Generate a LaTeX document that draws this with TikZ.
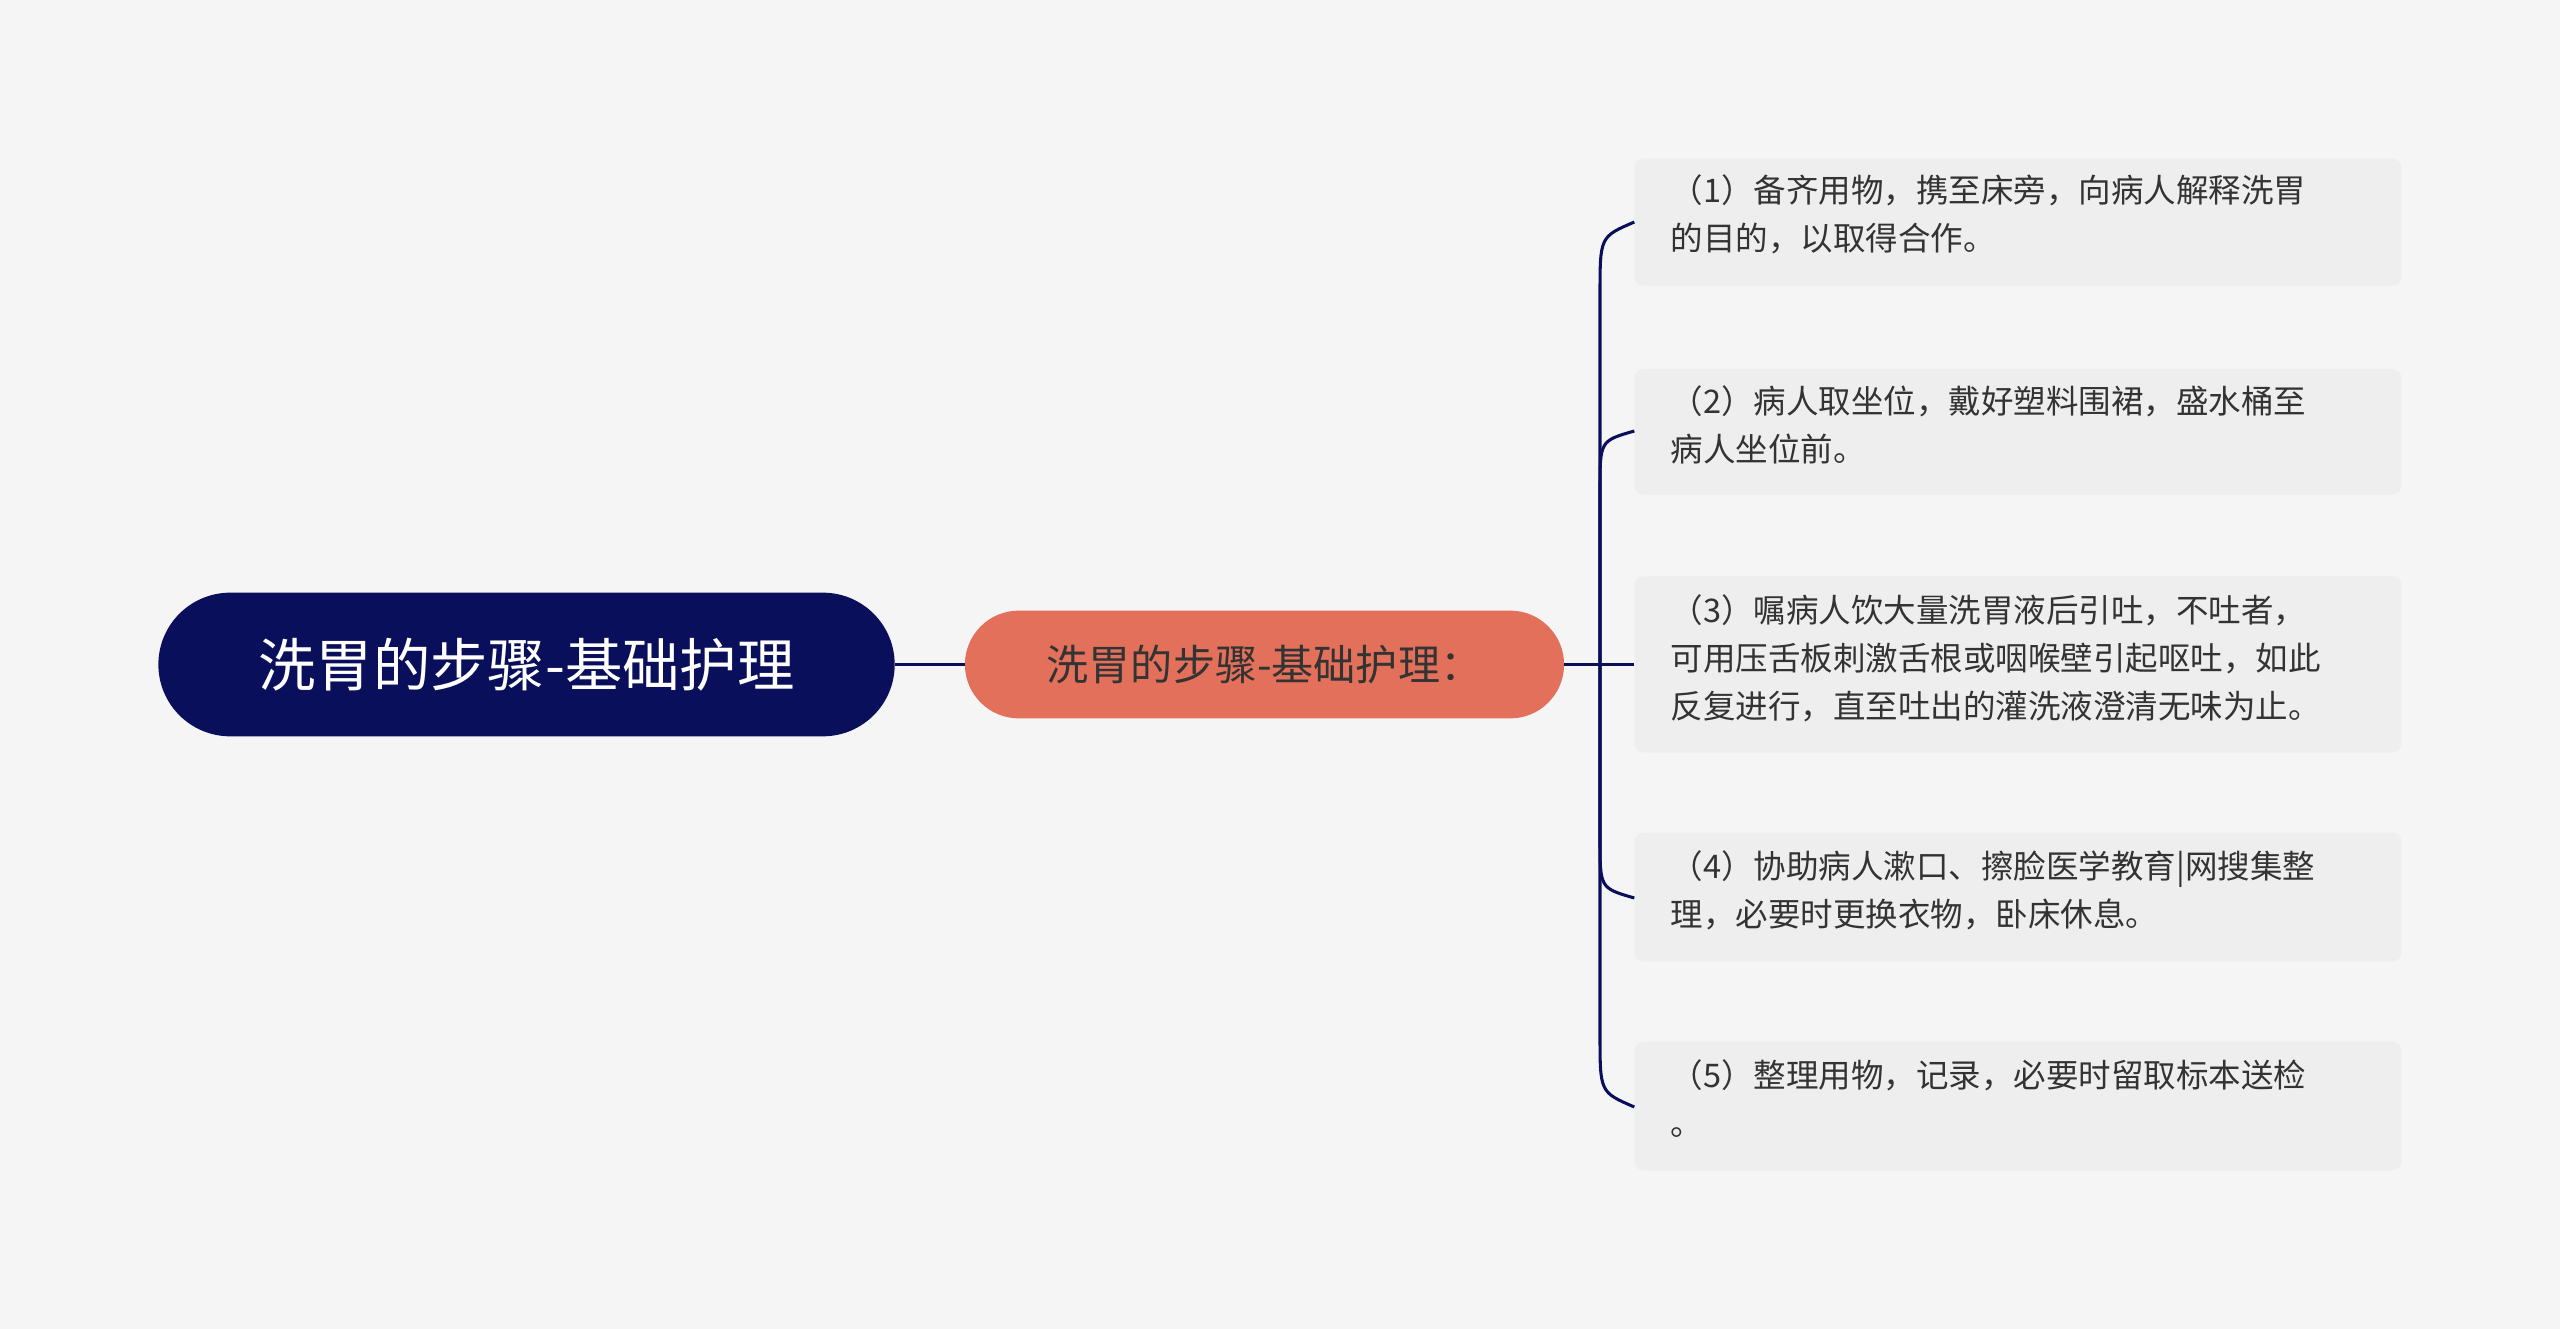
\documentclass[tikz,border=0pt]{standalone}
\usepackage{fontspec}
\setmainfont{Noto Sans CJK SC}
\begin{document}
\begin{tikzpicture}[x=0.03cm,y=-0.03cm,
  leaf/.style={fill=leafbg,rounded corners=5pt,minimum width=470*0.03cm,text width=450*0.03cm,align=left,inner sep=0pt,font=\fontsize{17}{25}\selectfont,text=txt,anchor=north west},
  conn/.style={draw=navy,line width=1.6pt}]
\definecolor{bg}{HTML}{F5F5F5}
\definecolor{leafbg}{HTML}{EEEEEE}
\definecolor{navy}{HTML}{0A0F5C}
\definecolor{salmon}{HTML}{E2705A}
\definecolor{txt}{HTML}{333333}
\fill[bg] (0,0) rectangle (1568,814);
\useasboundingbox (0,0) rectangle (1568,814);
\node[fill=navy,rounded corners=44*0.03cm,minimum width=451*0.03cm,minimum height=88*0.03cm,text=white,font=\fontsize{30}{36}\selectfont] (root) at (322.5,407) {洗胃的步骤-基础护理};
\node[fill=salmon,rounded corners=33*0.03cm,minimum width=367*0.03cm,minimum height=66*0.03cm,text=txt,font=\fontsize{22}{28}\selectfont] (mid) at (774.5,407) {洗胃的步骤-基础护理：};
\draw[conn] (root.east) -- (mid.west);
\coordinate (j) at (980,407);
\draw[conn] (mid.east) -- (j);
\foreach \n/\ya/\yb in {a/97/175,b/226/303,c/353/461,d/510/589,e/638/717}{
  \fill[leafbg,rounded corners=5pt] (1001,\ya) rectangle (1471,\yb);
}
\node[leaf,fill=none] (a) at (1013,107) {（1）备齐用物，携至床旁，向病人解释洗胃\\的目的，以取得合作。};
\node[leaf,fill=none] (b) at (1013,236) {（2）病人取坐位，戴好塑料围裙，盛水桶至\\病人坐位前。};
\node[leaf,fill=none] (c) at (1013,364) {（3）嘱病人饮大量洗胃液后引吐，不吐者，\\可用压舌板刺激舌根或咽喉壁引起呕吐，如此\\反复进行，直至吐出的灌洗液澄清无味为止。};
\node[leaf,fill=none] (d) at (1013,521) {（4）协助病人漱口、擦脸医学教育|网搜集整\\理，必要时更换衣物，卧床休息。};
\node[leaf,fill=none] (e) at (1013,649) {（5）整理用物，记录，必要时留取标本送检\\。};
\coordinate (ta) at (1001,136);
\coordinate (tb) at (1001,264);
\coordinate (tc) at (1001,407);
\coordinate (td) at (1001,550);
\coordinate (te) at (1001,678);
\draw[conn] (j) -- (980,180) .. controls (980,145) .. (ta);
\draw[conn] (j) -- (980,300) .. controls (980,270) .. (tb);
\draw[conn] (j) -- (tc);
\draw[conn] (j) -- (980,514) .. controls (980,544) .. (td);
\draw[conn] (j) -- (980,634) .. controls (980,669) .. (te);
\end{tikzpicture}
\end{document}
